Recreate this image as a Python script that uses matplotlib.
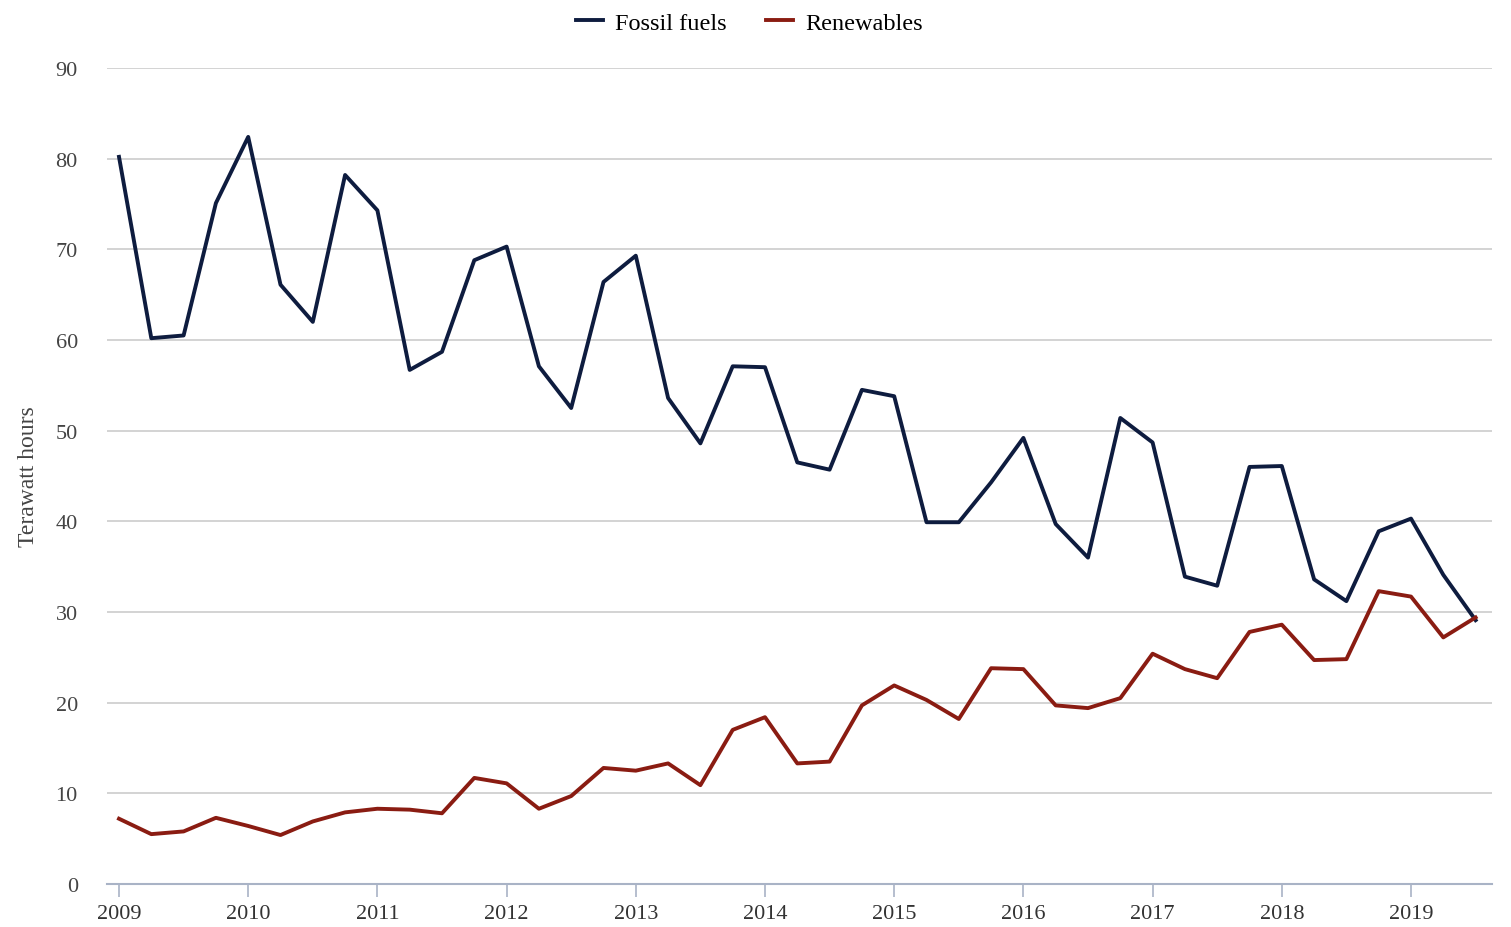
import matplotlib
matplotlib.use("Agg")
import matplotlib.pyplot as plt

years = list(range(2009, 2020))
fossil = [80.2, 60.2, 60.5, 75.1, 82.4, 66.1, 62.0, 78.2, 74.3, 56.7, 58.7,
          68.8, 70.3, 57.1, 52.5, 66.4, 69.3, 53.6, 48.6, 57.1, 57.0, 46.5,
          45.7, 54.5, 53.8, 39.9, 39.9, 44.3, 49.2, 39.7, 36.0, 51.4, 48.7,
          33.9, 32.9, 46.0, 46.1, 33.6, 31.2, 38.9, 40.3, 34.1, 29.1]
renew = [7.2, 5.5, 5.8, 7.3, 6.4, 5.4, 6.9, 7.9, 8.3, 8.2, 7.8,
         11.7, 11.1, 8.3, 9.7, 12.8, 12.5, 13.3, 10.9, 17.0, 18.4, 13.3,
         13.5, 19.7, 21.9, 20.3, 18.2, 23.8, 23.7, 19.7, 19.4, 20.5, 25.4,
         23.7, 22.7, 27.8, 28.6, 24.7, 24.8, 32.3, 31.7, 27.2, 29.4]
yticks = list(range(0, 100, 10))

plt.rcParams['font.family'] = ['Liberation Serif', 'DejaVu Serif']

fig = plt.figure(figsize=(15.11, 9.28), dpi=100)
ax = fig.add_axes([107/1511, 1-885/928, (1492-107)/1511, (885-69)/928])

x = [i for i in range(len(fossil))]
ax.plot(x, fossil, color='#0e1c3f', lw=2.8, label='Fossil fuels')
ax.plot(x, renew, color='#8a1c12', lw=2.8, label='Renewables')

ax.set_ylim(0, 90)
ax.set_xlim(-12/32.3, (1492-119)/32.3)
ax.set_yticks(yticks)
ax.set_yticklabels([str(v) for v in yticks], fontsize=16, color='#444444')
ax.set_xticks([4*i for i in range(len(years))])
ax.set_xticklabels([str(y) for y in years], fontsize=16, color='#333333')
ax.tick_params(axis='y', length=0, pad=21)
ax.tick_params(axis='x', length=9.5, color='#a9b3c6', width=1.2, pad=5)
ax.grid(axis='y', color='#cccccc', lw=1.2)
ax.set_axisbelow(True)
for s in ['top', 'right', 'left']:
    ax.spines[s].set_visible(False)
ax.spines['bottom'].set_color('#a9b3c6')
ax.spines['bottom'].set_linewidth(1.5)

ax.set_ylabel('Terawatt hours', fontsize=17, color='#444444', labelpad=12)

fig.legend(loc='upper center', bbox_to_anchor=(0.496, 1.01), ncol=2, frameon=False,
           fontsize=17.5, handlelength=1.1, handletextpad=0.5, columnspacing=1.6)

fig.savefig('out.png', dpi=100)
